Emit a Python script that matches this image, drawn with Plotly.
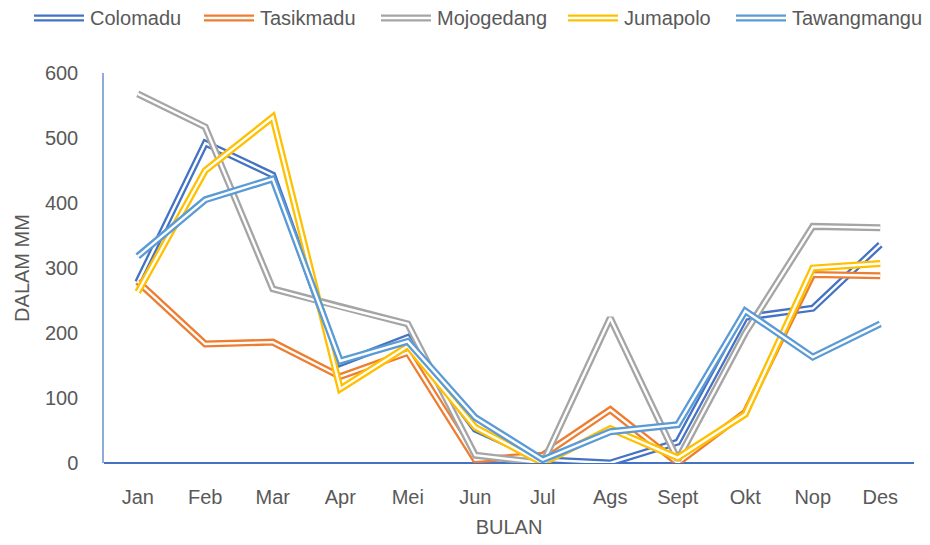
import plotly.graph_objects as go

# Monthly rainfall (mm) per district
bulan = ["Jan", "Feb", "Mar", "Apr", "Mei", "Jun", "Jul", "Ags", "Sept", "Okt", "Nop", "Des"]
colomadu = [278, 492, 443, 153, 193, 52, 5, 0, 32, 224, 238, 336]
tasikmadu = [279, 183, 186, 133, 170, 5, 12, 82, 0, 78, 290, 288]
mojogedang = [568, 517, 268, 240, 214, 12, 0, 223, 5, 200, 364, 362]
jumapolo = [263, 450, 532, 114, 180, 55, 0, 53, 8, 75, 300, 307]
tawangmangu = [318, 405, 437, 157, 187, 70, 5, 48, 59, 234, 163, 214]

series = [
    ("Colomadu", colomadu, "#4472C4"),
    ("Tasikmadu", tasikmadu, "#ED7D31"),
    ("Mojogedang", mojogedang, "#A5A5A5"),
    ("Jumapolo", jumapolo, "#FFC000"),
    ("Tawangmangu", tawangmangu, "#5B9BD5"),
]

FONT = "Liberation Sans Narrow, Arial Narrow, Liberation Sans, sans-serif"
TXT = "#595959"

fig = go.Figure()
# double-stroke lines: a wide coloured stroke with a thin white core
for name, vals, col in series:
    fig.add_trace(go.Scatter(x=bulan, y=vals, mode="lines", name=name,
                             line=dict(color=col, width=7), showlegend=False,
                             hoverinfo="skip"))
    fig.add_trace(go.Scatter(x=bulan, y=vals, mode="lines", name=name,
                             line=dict(color="white", width=2.4), showlegend=False))

# legend drawn as double-stroke keys with labels
leg_x = [34, 204, 381, 568, 736]
L, R = 104, 914
shapes = []
annotations = []
for (name, _, col), px in zip(series, leg_x):
    x0 = (px - L) / (R - L)
    x1 = (px + 50 - L) / (R - L)
    yk = 1 + (73 - 18) / 390
    for w, c in ((7, col), (2.4, "white")):
        shapes.append(dict(type="line", xref="paper", yref="paper",
                           x0=x0, x1=x1, y0=yk, y1=yk,
                           line=dict(color=c, width=w)))
    annotations.append(dict(text=name, xref="paper", yref="paper",
                            x=(px + 54 - L) / (R - L), y=yk, xanchor="left",
                            yanchor="middle", showarrow=False,
                            font=dict(family=FONT, size=20, color=TXT)))

fig.update_layout(
    width=930, height=545,
    margin=dict(l=104, r=16, t=73, b=82),
    plot_bgcolor="white", paper_bgcolor="white",
    shapes=shapes, annotations=annotations,
    xaxis=dict(title=dict(text="BULAN", font=dict(family=FONT, size=20, color=TXT),
                          standoff=12),
               range=[-0.5, 11.5],
               tickfont=dict(family=FONT, size=20, color=TXT),
               showgrid=False, showline=False, zeroline=False, ticks="",
               ticklabelstandoff=20),
    yaxis=dict(title=dict(text="DALAM MM", font=dict(family=FONT, size=20, color=TXT),
                          standoff=10),
               range=[0, 600], dtick=100,
               tickfont=dict(family=FONT, size=20, color=TXT),
               showgrid=False, showline=True, linecolor="#8FAADC", linewidth=1.5,
               zeroline=True, zerolinecolor="#4472C4", zerolinewidth=1.5,
               ticks="", ticklabelstandoff=20),
)

fig.write_html("out.html")
